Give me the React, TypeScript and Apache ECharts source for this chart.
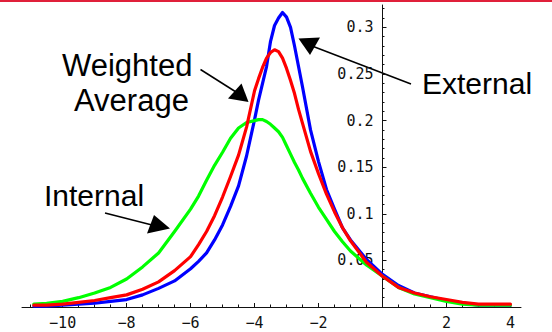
import React, { useEffect, useRef } from 'react';
import * as echarts from 'echarts';

// shared x grid
const xValues = [
  -10.9, -10.5, -10, -9.5, -9, -8.5, -8, -7.5, -7, -6.5, -6,
  -5.75, -5.5, -5.25, -5, -4.75, -4.5, -4.25,
  -4, -3.875, -3.75, -3.625, -3.5, -3.375, -3.25, -3.125, -3, -2.875, -2.75, -2.625, -2.5,
  -2.25, -2, -1.75, -1.5, -1.25, -1,
  -0.5, 0, 0.5, 1, 1.5, 2, 2.5, 3, 3.5, 4,
];

const externalY = [
  0.001, 0.001, 0.002, 0.003, 0.004, 0.006, 0.008, 0.013, 0.02, 0.028, 0.041,
  0.049, 0.058, 0.072, 0.088, 0.108, 0.13, 0.162,
  0.201, 0.222, 0.24, 0.258, 0.285, 0.302, 0.31, 0.316, 0.311, 0.3, 0.28, 0.258, 0.236,
  0.19, 0.156, 0.126, 0.105, 0.085, 0.072,
  0.051, 0.035, 0.023, 0.015, 0.011, 0.007, 0.004, 0.002, 0.002, 0.002,
];

const weightedY = [
  0.002, 0.002, 0.003, 0.005, 0.007, 0.01, 0.013, 0.019, 0.027, 0.039, 0.054,
  0.067, 0.081, 0.098, 0.118, 0.14, 0.163, 0.193,
  0.232, 0.245, 0.257, 0.267, 0.273, 0.276, 0.274, 0.267, 0.256, 0.243, 0.229, 0.212, 0.197,
  0.167, 0.143, 0.121, 0.102, 0.085, 0.071,
  0.048, 0.033, 0.021, 0.015, 0.011, 0.008, 0.005, 0.003, 0.003, 0.003,
];

const internalY = [
  0.003, 0.004, 0.006, 0.01, 0.015, 0.021, 0.03, 0.043, 0.058, 0.081, 0.105,
  0.119, 0.136, 0.152, 0.166, 0.181, 0.192, 0.198,
  0.2, 0.201, 0.201, 0.199, 0.196, 0.192, 0.188, 0.182, 0.173, 0.164, 0.155, 0.147, 0.138,
  0.122, 0.107, 0.094, 0.081, 0.07, 0.06,
  0.045, 0.033, 0.021, 0.014, 0.01, 0.006, 0.003, 0.002, 0.002, 0.002,
];

const xTickLabels = [-10, -8, -6, -4, -2, 2, 4];
const yTickLabels = [0.05, 0.1, 0.15, 0.2, 0.25, 0.3];

const X_MIN = -11.27;
const X_MAX = 4.33;
const Y_MIN = 0;
const Y_MAX = 0.324;

const GRID_LEFT = 22;
const GRID_RIGHT = 31;
const PLOT_W = 552 - GRID_LEFT - GRID_RIGHT;
// y axis drawn at x = 0: shift it inward from the grid's left edge
const Y_AXIS_OFFSET = -((0 - X_MIN) / (X_MAX - X_MIN)) * PLOT_W;

const xMinorTicks: number[] = [];
for (let i = -22; i <= 8; i++) {
  const v = i / 2;
  if (v % 2 !== 0) xMinorTicks.push(v);
}
const yMinorTicks: number[] = [];
for (let i = 1; i <= 32; i++) {
  if (i % 5 !== 0) yMinorTicks.push(i / 100);
}

const pairs = (ys: number[]) => xValues.map((x, i) => [x, ys[i]]);

const tickFont = { fontFamily: '"DejaVu Sans Mono", monospace', fontSize: 15, color: '#111' };
const annFont = '"Liberation Sans", Arial, sans-serif';

export default function App() {
  const ref = useRef<HTMLDivElement>(null);
  useEffect(() => {
    const chart = echarts.init(ref.current!, null, { renderer: 'svg' });
    const axisColor = '#111';
    const text = (t: string, x: number, y: number, size: number) => ({
      type: 'text',
      x,
      y,
      style: {
        text: t,
        fontFamily: annFont,
        fontSize: size,
        fill: '#000',
        textAlign: 'left',
        align: 'left',
        textVerticalAlign: 'middle',
        verticalAlign: 'middle',
      },
    });
    const line = (x1: number, y1: number, x2: number, y2: number) => ({
      type: 'line',
      shape: { x1, y1, x2, y2 },
      style: { stroke: '#000', lineWidth: 1.5 },
    });
    const head = (pts: number[][]) => ({
      type: 'polygon',
      shape: { points: pts },
      style: { fill: '#000' },
    });
    chart.setOption({
      animation: false,
      backgroundColor: '#fff',
      grid: {
        left: GRID_LEFT,
        right: GRID_RIGHT,
        top: 5,
        bottom: 25,
        containLabel: false,
        outerBoundsMode: 'none',
      },
      xAxis: [
        {
          type: 'value',
          min: X_MIN,
          max: X_MAX,
          position: 'bottom',
          axisLine: { show: true, onZero: false, lineStyle: { color: axisColor, width: 1 } },
          axisTick: { show: true, inside: true, length: 4, customValues: xTickLabels, lineStyle: { color: axisColor } },
          axisLabel: {
            show: true,
            margin: 8,
            customValues: xTickLabels,
            formatter: (v: number) => String(v).replace('-', '\u2212'),
            ...tickFont,
          },
          splitLine: { show: false },
        },
        {
          type: 'value',
          min: X_MIN,
          max: X_MAX,
          position: 'bottom',
          axisLine: { show: false, onZero: false },
          axisTick: { show: true, inside: true, length: 2.5, customValues: xMinorTicks, lineStyle: { color: axisColor } },
          axisLabel: { show: false },
          splitLine: { show: false },
        },
      ],
      yAxis: [
        {
          type: 'value',
          min: Y_MIN,
          max: Y_MAX,
          position: 'left',
          offset: Y_AXIS_OFFSET,
          axisLine: { show: true, onZero: false, lineStyle: { color: axisColor, width: 1 } },
          axisTick: { show: true, inside: true, length: 4, customValues: yTickLabels, lineStyle: { color: axisColor } },
          axisLabel: {
            show: true,
            margin: 9,
            customValues: yTickLabels,
            formatter: (v: number) => String(v),
            ...tickFont,
          },
          splitLine: { show: false },
        },
        {
          type: 'value',
          min: Y_MIN,
          max: Y_MAX,
          position: 'left',
          offset: Y_AXIS_OFFSET,
          axisLine: { show: false, onZero: false },
          axisTick: { show: true, inside: true, length: 2, customValues: yMinorTicks, lineStyle: { color: axisColor } },
          axisLabel: { show: false },
          splitLine: { show: false },
        },
      ],
      series: [
        {
          name: 'External',
          type: 'line',
          xAxisIndex: 0,
          yAxisIndex: 0,
          data: pairs(externalY),
          showSymbol: false,
          symbol: 'none',
          lineStyle: { color: '#0000ff', width: 3.2, cap: 'round', join: 'round' },
        },
        {
          name: 'Internal',
          type: 'line',
          xAxisIndex: 0,
          yAxisIndex: 0,
          data: pairs(internalY),
          showSymbol: false,
          symbol: 'none',
          lineStyle: { color: '#00ff00', width: 3.2, cap: 'round', join: 'round' },
        },
        {
          name: 'Weighted Average',
          type: 'line',
          xAxisIndex: 0,
          yAxisIndex: 0,
          data: pairs(weightedY),
          showSymbol: false,
          symbol: 'none',
          lineStyle: { color: '#ff0000', width: 3.2, cap: 'round', join: 'round' },
        },
      ],
      graphic: [
        { type: 'rect', shape: { x: 0, y: 0, width: 552, height: 2 }, style: { fill: '#e0203a' } },
        text('Weighted', 62, 65, 31),
        text('Average', 74, 100.5, 31),
        text('External', 422, 83, 30),
        text('Internal', 44, 195, 30),
        line(200.5, 69.5, 236, 92),
        head([[228, 98.5], [241.5, 83.5], [248.5, 102]]),
        line(411, 84, 312, 46),
        head([[298.5, 38.5], [320, 37.5], [310, 55]]),
        line(105, 213, 152, 225),
        head([[147, 233.5], [154, 215], [170, 228.5]]),
      ],
    });
    return () => chart.dispose();
  }, []);
  return (
    <div
      ref={ref}
      style={{ position: 'fixed', left: 0, top: 0, width: 552, height: 332, background: '#fff' }}
    />
  );
}
